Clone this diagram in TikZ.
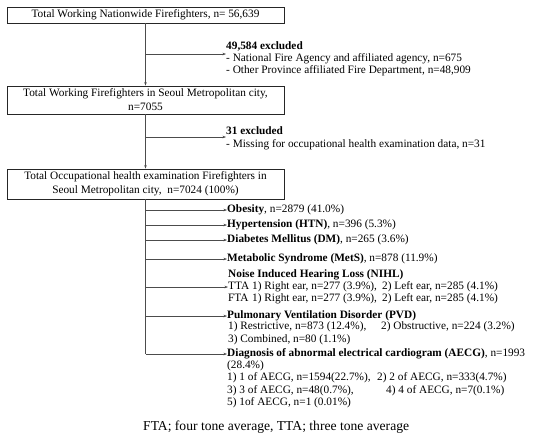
\documentclass[tikz,border=0pt]{standalone}
\usepackage{fontspec}
\setmainfont{Liberation Serif}
\usetikzlibrary{arrows.meta}
\newcommand{\fs}{\fontsize{11.3}{14}\selectfont}
\tikzset{
  box/.style={draw=black!85, line width=0.9pt, minimum width=277pt, inner sep=0pt, align=center, font=\fs},
  txt/.style={anchor=west, inner sep=0pt, text height=7.5pt, text depth=2.2pt, font=\fs},
  conn/.style={draw=black!70, line width=0.7pt},
  arr/.style={conn, -{Stealth[length=3.5pt,width=2.6pt]}}
}
\begin{document}
\begin{tikzpicture}[x=1pt,y=-1pt]
\useasboundingbox (0,0) rectangle (550,445);
% boxes
\node[box, minimum height=16pt] (b1) at (145.5,15) {Total Working Nationwide Firefighters, n= 56,639};
\node[box, minimum height=28pt] (b2) at (145.5,100) {Total Working Firefighters in Seoul Metropolitan city,\\ n=7055};
\node[box, minimum height=30pt] (b3) at (145.5,184) {Total Occupational health examination Firefighters in\\ Seoul Metropolitan city,~ n=7024 (100\%)};
% exclusions
\node[txt] (e1a) at (226,47) {\textbf{49,584 excluded}};
\node[txt] (e1b) at (226,59) {- National Fire Agency and affiliated agency, n=675};
\node[txt] (e1c) at (226,71) {- Other Province affiliated Fire Department, n=48,909};
\node[txt] (e2a) at (226,132) {\textbf{31 excluded}};
\node[txt] (e2b) at (226,145) {- Missing for occupational health examination data, n=31};
% outcomes
\node[txt] (o1) at (227,210) {\textbf{Obesity}, n=2879 (41.0\%)};
\node[txt] (o2) at (227,225) {\textbf{Hypertension (HTN)}, n=396 (5.3\%)};
\node[txt] (o3) at (227,240) {\textbf{Diabetes Mellitus (DM)}, n=265 (3.6\%)};
\node[txt] (o4) at (227,259) {\textbf{Metabolic Syndrome (MetS)}, n=878 (11.9\%)};
\node[txt] (o5a) at (228,275) {\textbf{Noise Induced Hearing Loss (NIHL)}};
\node[txt] (o5b) at (228,287) {\makebox[24pt][l]{TTA}\makebox[130pt][l]{1) Right ear, n=277 (3.9\%),}2) Left ear, n=285 (4.1\%)};
\node[txt] (o5c) at (228,299) {\makebox[24pt][l]{FTA}\makebox[130pt][l]{1) Right ear, n=277 (3.9\%),}2) Left ear, n=285 (4.1\%)};
\node[txt] (o6a) at (227,316) {\textbf{Pulmonary Ventilation Disorder (PVD)}};
\node[txt] (o6b) at (228,327) {\makebox[153pt][l]{1) Restrictive, n=873 (12.4\%),}2) Obstructive, n=224 (3.2\%)};
\node[txt] (o6c) at (228,340) {3) Combined, n=80 (1.1\%)};
\node[txt] (o7a) at (227,354) {\textbf{Diagnosis of abnormal electrical cardiogram (AECG)}, n=1993};
\node[txt] (o7b) at (227,366) {(28.4\%)};
\node[txt] (o7c) at (227,378) {\makebox[150pt][l]{1) 1 of AECG, n=1594(22.7\%),}2) 2 of AECG, n=333(4.7\%)};
\node[txt] (o7d) at (227,391) {\makebox[159pt][l]{3) 3 of AECG, n=48(0.7\%),}4) 4 of AECG, n=7(0.1\%)};
\node[txt] (o7e) at (227,403) {5) 1of AECG, n=1 (0.01\%)};
\node[anchor=west, inner sep=0pt, font=\fontsize{13.6}{15}\selectfont] (foot) at (143,427) {FTA; four tone average, TTA; three tone average};
% connectors
\draw[arr] (b1) -- (b2);
\draw[arr] (b2) -- (b3);
\coordinate (j1) at (145.5,54);
\coordinate (j2) at (145.5,137);
\draw[arr] (j1) -- (j1 -| e1a.west);
\draw[arr] (j2) -- (j2 -| e2a.west);
\coordinate (k1) at (145.5,210);
\coordinate (k2) at (145.5,225);
\coordinate (k3) at (145.5,240);
\coordinate (k4) at (145.5,259);
\coordinate (k5) at (145.5,287);
\coordinate (k6) at (145.5,316);
\coordinate (k7) at (145.5,354);
\draw[conn] (b3.south) -- (k7);
\draw[arr] (k1) -- (o1.west);
\draw[arr] (k2) -- (o2.west);
\draw[arr] (k3) -- (o3.west);
\draw[arr] (k4) -- (o4.west);
\draw[arr] (k5) -- (o5b.west);
\draw[arr] (k6) -- (o6a.west);
\draw[arr] (k7) -- (o7a.west);
\end{tikzpicture}
\end{document}
